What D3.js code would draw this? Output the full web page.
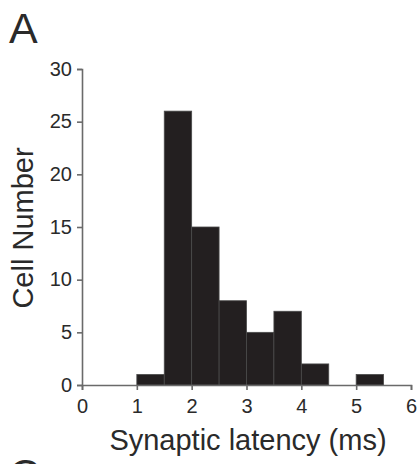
<!DOCTYPE html>
<html><head><meta charset="utf-8">
<script src="https://cdn.jsdelivr.net/npm/d3@7"></script>
<style>body{margin:0;background:#fff}svg{display:block}text{font-family:"Liberation Sans",Arial,sans-serif;fill:#2a2a2a}</style>
</head><body><svg id="c" width="420" height="464"></svg>
<script>
const binStarts = [1, 1.5, 2, 2.5, 3, 3.5, 4, 4.5, 5];
const binWidth = 0.5;
const counts = [1, 26, 15, 8, 5, 7, 2, 0, 1];
const xTicks = [0, 1, 2, 3, 4, 5, 6];
const yTicks = [0, 5, 10, 15, 20, 25, 30];

const svg = d3.select("#c");
const x = d3.scaleLinear().domain([0, 6]).range([82, 411]);
const y = d3.scaleLinear().domain([0, 30]).range([385, 69]);

svg.append("g").selectAll("rect").data(binStarts).join("rect")
  .attr("x", d => x(d))
  .attr("width", d => x(d + binWidth) - x(d))
  .attr("y", (d, i) => y(counts[i]))
  .attr("height", (d, i) => y(0) - y(counts[i]))
  .attr("fill", "#231f20")
  .attr("stroke", "#4a4a4a").attr("stroke-width", 0.8)
  .style("display", (d, i) => counts[i] > 0 ? null : "none");

const xa = svg.append("g").attr("transform", `translate(0,${y(0)})`)
  .call(d3.axisBottom(x).tickValues(xTicks).tickFormat(d3.format("d")).tickSizeOuter(0).tickSize(5).tickPadding(9));
const ya = svg.append("g").attr("transform", `translate(${x(0)},0)`)
  .call(d3.axisLeft(y).tickValues(yTicks).tickFormat(d3.format("d")).tickSizeOuter(0).tickSize(5).tickPadding(5));
[xa, ya].forEach(g => {
  g.select(".domain").attr("stroke", "#6a6a6a").attr("stroke-width", 1.6);
  g.selectAll(".tick line").attr("stroke", "#6a6a6a").attr("stroke-width", 1.6);
  g.selectAll(".tick text").attr("font-size", 20).attr("fill", "#2a2a2a")
    .attr("font-family", '"Liberation Sans", Arial, sans-serif');
});
ya.selectAll(".tick text").attr("dy", "0.3em");

svg.append("text").attr("x", 248).attr("y", 450).attr("text-anchor", "middle")
  .attr("font-size", 29).text("Synaptic latency (ms)");
svg.append("text").attr("transform", "translate(33,228) rotate(-90)")
  .attr("text-anchor", "middle").attr("font-size", 29).text("Cell Number");
svg.append("text").attr("x", 9).attr("y", 43).attr("font-size", 43).text("A");
svg.append("text").attr("x", 9).attr("y", 489).attr("font-size", 43).text("C");
</script></body></html>
